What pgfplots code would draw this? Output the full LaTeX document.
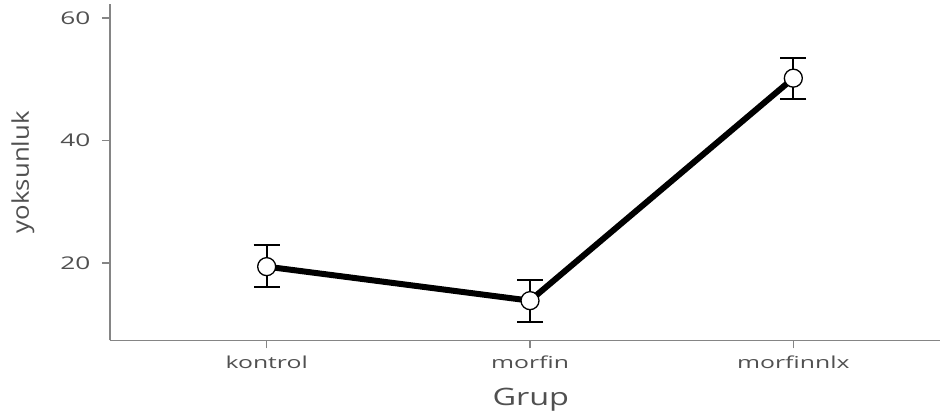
\documentclass[border=0pt]{standalone}
\usepackage{fontspec}
\setmainfont{Open Sans}
\usepackage{pgfplots}
\usepackage{pgfplotstable}
\pgfplotsset{compat=1.18}
\usetikzlibrary{calc}
\definecolor{axgrey}{HTML}{858585}
\definecolor{txtgrey}{HTML}{505050}

\pgfplotstableread{
x y ep em
0 19.45 3.55 3.35
1 13.9 3.3 3.5
2 50.2 3.3 3.4
}\data

\begin{document}
\begin{tikzpicture}
\begin{axis}[
 name=ax, scale only axis, width=830pt, height=336.5pt,
 xmin=-0.595, xmax=2.557, ymin=7.4, ymax=62.3,
 axis x line*=bottom, axis y line*=left,
 axis line style={axgrey, line width=1.6pt},
 xtick={0,1,2}, xticklabels={kontrol,morfin,morfinnlx},
 ytick={20,40,60},
 tick align=outside, major tick length=8pt,
 tick style={axgrey, line width=1.6pt},
 xticklabel style={font=\fontsize{16.5}{18}\selectfont\addfontfeatures{FakeStretch=1.5}, text=txtgrey, yshift=-4pt},
 yticklabel style={font=\fontsize{17.5}{18}\selectfont\addfontfeatures{FakeStretch=1.5}, text=txtgrey, xshift=-8pt},
 /pgf/number format/assume math mode=true,
 xlabel={Grup}, ylabel={yoksunluk},
 xlabel style={font=\fontsize{24}{28}\selectfont\addfontfeatures{FakeStretch=1.35}, text=txtgrey, at={(axis description cs:0.507,-0.1917)}, anchor=base},
 ylabel style={font=\fontsize{23}{26}\selectfont\addfontfeatures{FakeStretch=1.12}, text=txtgrey, at={(axis description cs:-0.1050,0.5)}, anchor=center},
 clip=false,
]
\addplot[black, only marks, mark=none,
  error bars/.cd, y dir=both, y explicit,
  error bar style={line width=2pt, black},
  error mark options={rotate=90, mark size=13pt, line width=2pt, black}]
  table[x=x, y=y, y error plus=ep, y error minus=em] {\data};
\addplot[black, line width=6pt, mark=none] table[x=x, y=y] {\data};
\addplot[only marks, mark=*, mark size=9pt, mark options={fill=white, draw=black, line width=1.3pt}] table[x=x, y=y] {\data};
\end{axis}
\pgfresetboundingbox
\path[use as bounding box] ($(ax.south west)+(-110pt,-76.5pt)$) rectangle ($(ax.north east)+(0pt,4pt)$);
\end{tikzpicture}
\end{document}
